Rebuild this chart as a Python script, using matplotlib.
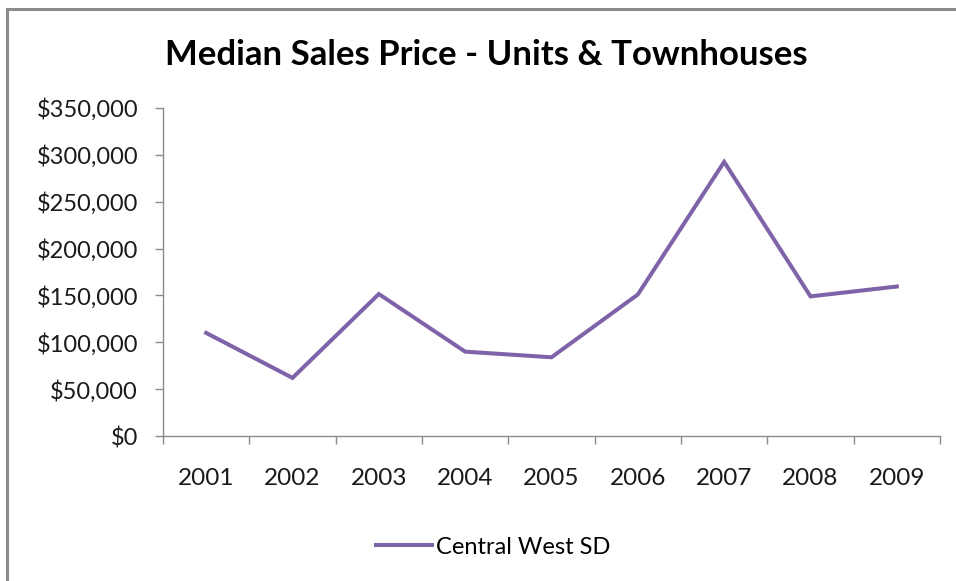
import matplotlib.pyplot as plt
from matplotlib.patches import Rectangle
from matplotlib.ticker import FuncFormatter, MultipleLocator
import numpy as np

years = ["2001", "2002", "2003", "2004", "2005", "2006", "2007", "2008", "2009"]
median_price = [110000, 62000, 151500, 90000, 84000, 151000, 292500, 149000, 159500]
series_name = "Central West SD"
title = "Median Sales Price - Units & Townhouses"

plt.rcParams["font.family"] = ["Lato", "DejaVu Sans"]

W, H = 956, 581
fig = plt.figure(figsize=(W / 100, H / 100), dpi=100)

# outer chart frame (Excel style), runs off the right/bottom edge
fig.patches.append(Rectangle((7 / W, -0.05), 1.1, 1 - 9 / H + 0.05, transform=fig.transFigure,
                             fill=False, edgecolor="#8c8c8c", linewidth=2.2))

ax = fig.add_axes([163 / W, 1 - 436 / H, (940 - 163) / W, (436 - 108) / H])
x = np.arange(len(years))
line, = ax.plot(x, median_price, color="#7f63a8", linewidth=2.9, solid_joinstyle="miter",
                label=series_name)

ax.set_xlim(-0.5, len(years) - 0.5)
ax.set_ylim(0, 350000)
ax.yaxis.set_major_locator(MultipleLocator(50000))
ax.yaxis.set_major_formatter(FuncFormatter(lambda v, p: f"${v:,.0f}"))
ax.set_xticks(x)
ax.set_xticklabels(years)
ax.set_xticks(np.arange(-0.5, len(years)), minor=True)

for side in ["top", "right"]:
    ax.spines[side].set_visible(False)
for side in ["left", "bottom"]:
    ax.spines[side].set_color("#8c8c8c")
    ax.spines[side].set_linewidth(1.0)

ax.tick_params(axis="x", which="major", length=0, pad=23, labelsize=17.5, colors="#1a1a1a")
ax.tick_params(axis="x", which="minor", length=6, width=1.0, color="#8c8c8c")
ax.tick_params(axis="y", length=6, width=1.0, color="#8c8c8c", pad=12, labelsize=17,
               labelcolor="#1a1a1a")

fig.text(0.5 * (168 + 805) / W, 1 - 55 / H, title, ha="center", va="center",
         fontsize=25, fontweight="bold", color="#000000")

fig.legend(handles=[line], loc="center", bbox_to_anchor=(493 / W, 1 - 547 / H),
           frameon=False, fontsize=17, handlelength=2.4, handletextpad=0.15)

fig.savefig("out.png", dpi=100)
